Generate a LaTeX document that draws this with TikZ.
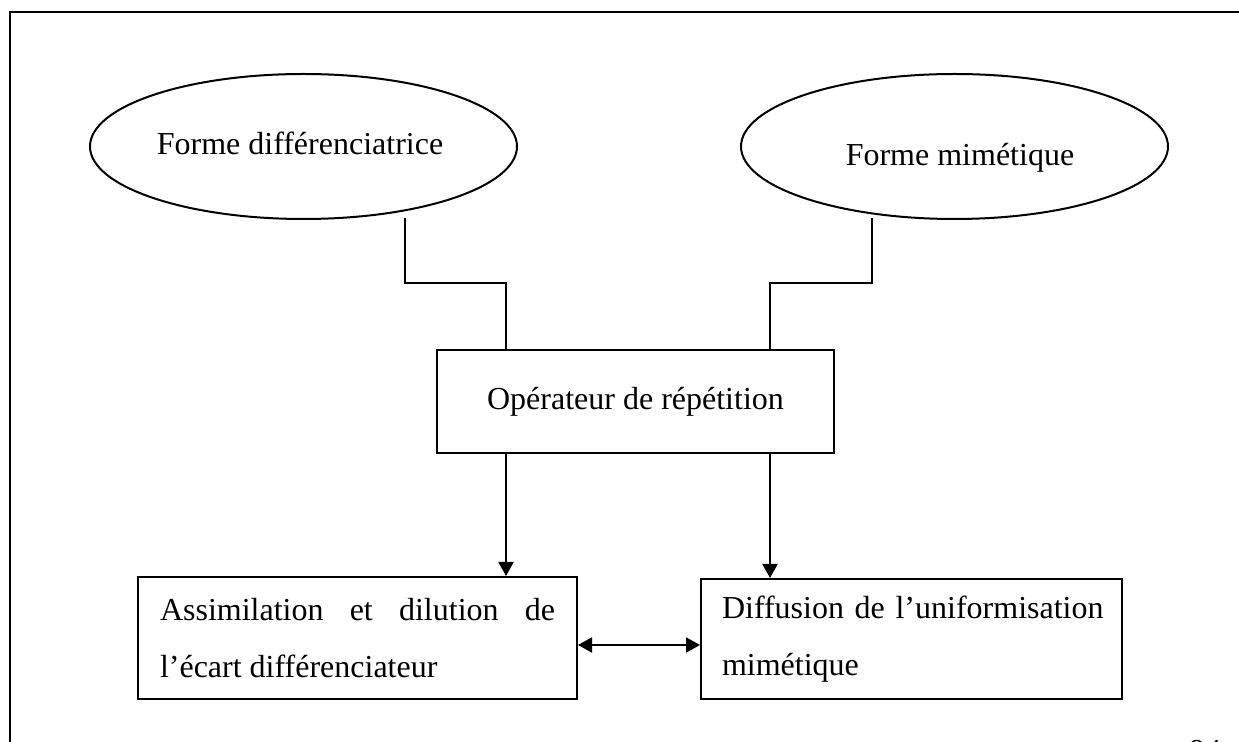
\documentclass[tikz,border=0pt]{standalone}
\usepackage{fontspec}
\setmainfont{Liberation Serif}
\usetikzlibrary{shapes.geometric,arrows.meta}

\begin{document}
\begin{tikzpicture}[x=0.5pt,y=-0.5pt,line width=1pt,
	font=\fontsize{16}{28.5}\selectfont,
	oval/.style={draw,ellipse,inner sep=0pt,minimum width=213.5pt,minimum height=72.5pt},
	box/.style={draw,rectangle,inner sep=0pt},
	flow/.style={-{Triangle[width=7.5pt,length=7pt]}},
	twoway/.style={{Triangle[width=7.5pt,length=7pt]}-{Triangle[width=7.5pt,length=7pt]}}]
	\useasboundingbox (0,0) rectangle (1239,742);
	\draw (10,742) -- (10,12) -- (1239,12);
	
	\node[oval] (diff) at (303.5,146.5) {};
	\node[anchor=base] (difftxt) at (300,155) {Forme différenciatrice};
	\node[oval] (mim) at (954.5,146.5) {};
	\node[anchor=base] (mimtxt) at (960,166) {Forme mimétique};
	
	\node[box,minimum width=198.5pt,minimum height=51.5pt] (rep) at (635.5,401.5) {Opérateur de répétition};
	
	\node[box,minimum height=61pt,inner xsep=11pt,text width=197.5pt,align=justify] (assim) at (357.5,638)
		{\hyphenpenalty=10000 \tolerance=10000 Assimilation et dilution de l’écart différenciateur};
	\node[box,minimum height=60pt,inner xsep=10.5pt,text width=189.5pt,align=left] (unif) at (911.5,639)
		{\mbox{Diffusion de l’uniformisation}\\mimétique};
	
	\coordinate (dfoot) at (405,218);
	\coordinate (djoin) at (506,283);
	\coordinate (mfoot) at (872,218);
	\coordinate (mjoin) at (770,283);
	\draw (dfoot) |- (djoin) -- (djoin |- rep.north);
	\draw (mfoot) |- (mjoin) -- (mjoin |- rep.north);
	
	\draw[flow] (rep.south -| djoin) -- (assim.north -| djoin);
	\draw[flow] (rep.south -| mjoin) -- (unif.north -| mjoin);
	\draw[twoway] ([yshift=-3.5pt]assim.east) -- ([yshift=-3.5pt]assim.east -| unif.west);
	
	\node[anchor=base] (page) at (1205,762) {94};
\end{tikzpicture}
\end{document}
